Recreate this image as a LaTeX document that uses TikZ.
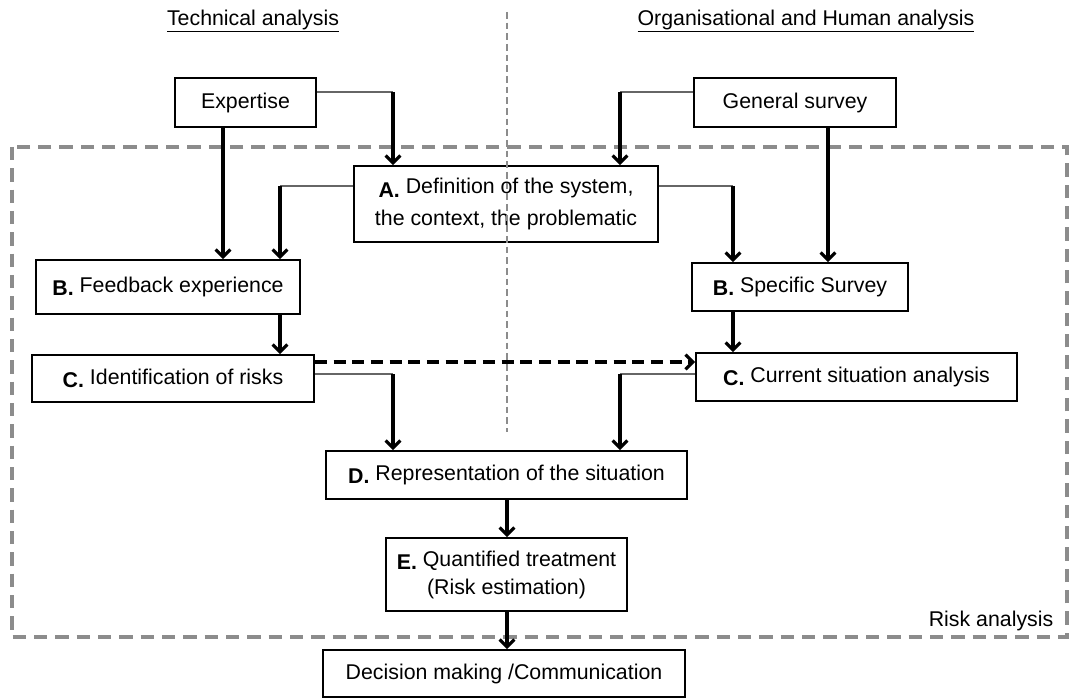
\documentclass[tikz,border=0pt]{standalone}
\usepackage{fontspec}
\setmainfont{Liberation Sans}
\usetikzlibrary{arrows.meta}

\newcommand{\stagelbl}[1]{\raisebox{-2.5pt}{\textbf{#1}}}

\tikzset{
  stagebox/.style={draw, line width=1.4pt, inner sep=0pt, align=center,
    font=\fontsize{16}{21}\selectfont},
  feed/.style={draw=black!60, line width=0.8pt},
  flow/.style={line width=2.3pt, -{Straight Barb[length=5.5pt,width=11pt]}},
  crossflow/.style={line width=2.3pt, dash pattern=on 9pt off 5pt,
    -{Straight Barb[length=5.5pt,width=11pt]}},
  riskframe/.style={draw=black!45, line width=2.6pt, dash pattern=on 10pt off 6pt},
  divider/.style={draw=black!45, line width=1.5pt, dash pattern=on 5pt off 3pt},
  headline/.style={font=\fontsize{16}{21}\selectfont}
}

\begin{document}
\begin{tikzpicture}[x=0.75pt,y=-0.75pt]
  \useasboundingbox (0,0) rectangle (1069,698);

  % Headings of the two branches
  \node[headline] (techhead) at (253,21) {\underline{Technical analysis}};
  \node[headline] (orghead) at (806,21) {\underline{Organisational and Human analysis}};

  % Risk analysis frame
  \draw[riskframe] (12,147) rectangle (1067,637);
  \node[headline, anchor=base east] (risklabel) at (1058,626) {Risk analysis};

  % Boxes
  \node[stagebox, minimum width=105.75pt, minimum height=36.75pt] (expertise) at (245.5,102.5) {Expertise};
  \node[stagebox, minimum width=151.5pt, minimum height=36.75pt] (general) at (795,102.5) {General survey};
  \node[stagebox, minimum width=228pt, minimum height=57pt] (defsys) at (506,204)
    {\stagelbl{A.} Definition of the system,\\[2.5pt]the context, the problematic};
  \node[stagebox, minimum width=198pt, minimum height=40.5pt] (feedback) at (168,287)
    {\stagelbl{B.} Feedback experience};
  \node[stagebox, minimum width=162pt, minimum height=36pt] (specific) at (800,287)
    {\stagelbl{B.} Specific Survey};
  \node[stagebox, minimum width=211.5pt, minimum height=35.25pt] (identif) at (173,378.5)
    {\stagelbl{C.} Identification of risks};
  \node[stagebox, minimum width=240.75pt, minimum height=36pt] (current) at (856.5,377)
    {\stagelbl{C.} Current situation analysis};
  \node[stagebox, minimum width=270.75pt, minimum height=36pt] (repres) at (506.5,475)
    {\stagelbl{D.} Representation of the situation};
  \node[stagebox, minimum width=180.75pt, minimum height=54.75pt] (quant) at (506.5,574.5)
    {\stagelbl{E.} Quantified treatment\\(Risk estimation)};
  \node[stagebox, minimum width=271.5pt, minimum height=35.25pt] (decision) at (504,673.5)
    {Decision making /Communication};

  % Corners of the side feeds
  \coordinate (expfeed) at (393,92);
  \coordinate (genfeed) at (620,92);
  \coordinate (defleft) at (280,186);
  \coordinate (defright) at (733,186);
  \coordinate (idfeed) at (393,374);
  \coordinate (curfeed) at (620,374);
  \coordinate (crossrow) at (0,362);
  \coordinate (expcol) at (223,0);
  \coordinate (gencol) at (828,0);
  \coordinate (midcol) at (507,0);

  % Side feeds: thin line out of a box, thick arrow down
  \draw[feed] (expertise.east |- expfeed) -- (expfeed);
  \draw[flow] (expfeed) -- (defsys.north -| expfeed);
  \draw[feed] (general.west |- genfeed) -- (genfeed);
  \draw[flow] (genfeed) -- (defsys.north -| genfeed);
  \draw[feed] (defsys.west |- defleft) -- (defleft);
  \draw[flow] (defleft) -- (feedback.north -| defleft);
  \draw[feed] (defsys.east |- defright) -- (defright);
  \draw[flow] (defright) -- (specific.north -| defright);
  \draw[feed] (identif.east |- idfeed) -- (idfeed);
  \draw[flow] (idfeed) -- (repres.north -| idfeed);
  \draw[feed] (current.west |- curfeed) -- (curfeed);
  \draw[flow] (curfeed) -- (repres.north -| curfeed);

  % Straight arrows
  \draw[flow] (expertise.south -| expcol) -- (feedback.north -| expcol);
  \draw[flow] (general.south -| gencol) -- (specific.north -| gencol);
  \draw[flow] (feedback.south -| defleft) -- (identif.north -| defleft);
  \draw[flow] (specific.south -| defright) -- (current.north -| defright);
  \draw[flow] (repres.south -| midcol) -- (quant.north -| midcol);
  \draw[flow] (quant.south -| midcol) -- (decision.north -| midcol);

  % Link between the two branches
  \draw[crossflow] (identif.east |- crossrow) -- (current.west |- crossrow);

  % Divider between the two analyses
  \draw[divider] (507,12) -- (507,432);
\end{tikzpicture}
\end{document}
